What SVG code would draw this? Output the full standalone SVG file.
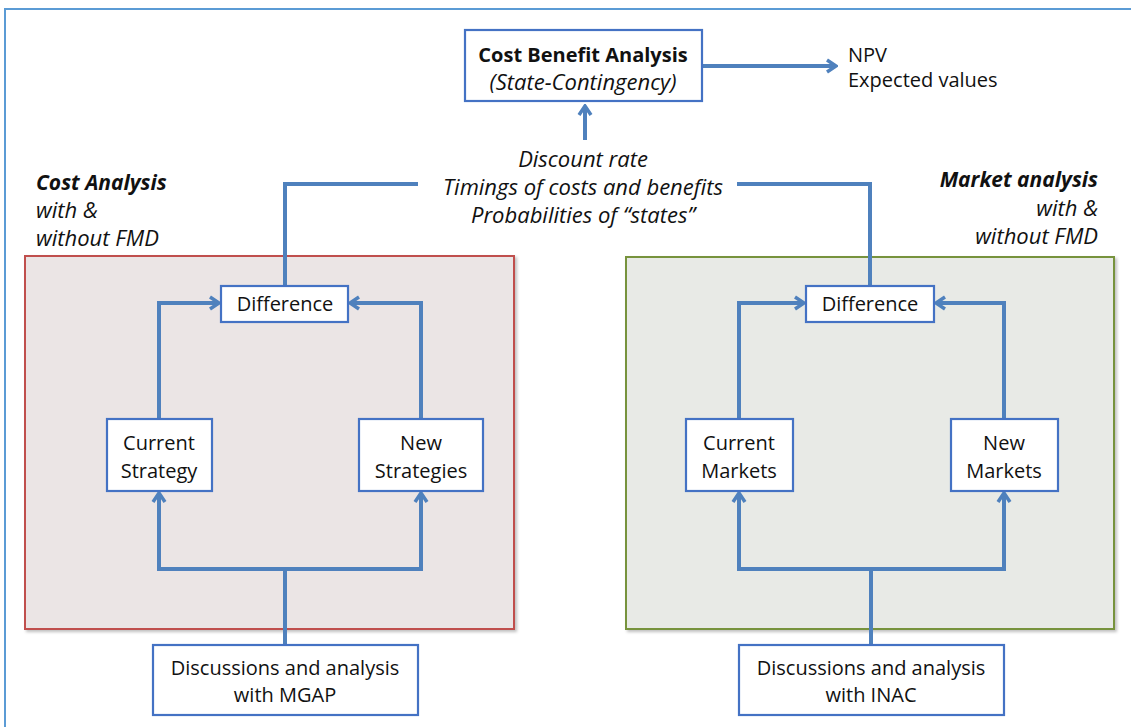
<svg xmlns="http://www.w3.org/2000/svg" width="1131" height="727" viewBox="0 0 1131 727">
<style>
.frame{fill:none;stroke:#5b9bd5;stroke-width:2}
.node{fill:#fff;stroke:#4472c4;stroke-width:2.2}
.t{font-family:"Open Sans",Lato,"Liberation Sans",sans-serif;font-size:20px;fill:#111}
.c{text-anchor:middle}
.i{font-style:italic;font-size:22px}
.b{font-weight:bold}
.bi{font-weight:bold;font-style:italic;font-size:21px}
.r{text-anchor:end}
.conn{fill:none;stroke:#4f81bd;stroke-width:4;stroke-linejoin:miter}
</style>
<defs>
<marker id="ah" markerUnits="userSpaceOnUse" markerWidth="16" markerHeight="16" viewBox="-14 -8 16 16" refX="0" refY="0" orient="auto-start-reverse">
<path d="M-9,-6 L0,0 L-9,6" fill="none" stroke="#4f81bd" stroke-width="3.5" stroke-linejoin="miter"/>
</marker>
<filter id="sh" x="-5%" y="-5%" width="110%" height="110%"><feDropShadow dx="2" dy="2" stdDeviation="1.5" flood-color="#000" flood-opacity="0.25"/></filter>
</defs>
<rect width="1131" height="727" fill="#fff"/>
<path class="frame" d="M5,727 V9 H1131"/>
<g id="cost-panel">
<rect x="25" y="256" width="489" height="373" fill="#ebe5e5" stroke="#c0504d" stroke-width="2" filter="url(#sh)"/>
<text class="t bi" x="36" y="190">Cost Analysis</text>
<text class="t i" x="36" y="218">with &amp;</text>
<text class="t i" x="36" y="246">without FMD</text>
</g>
<g id="market-panel">
<rect x="626" y="257" width="488" height="372" fill="#e8eae6" stroke="#77933c" stroke-width="2" filter="url(#sh)"/>
<text class="t bi r" x="1098" y="187">Market analysis</text>
<text class="t i r" x="1098" y="216">with &amp;</text>
<text class="t i r" x="1098" y="244">without FMD</text>
</g>
<g id="connectors">
<path class="conn" d="M702,66 H836" marker-end="url(#ah)"/>
<path class="conn" d="M585,140 V106" marker-end="url(#ah)"/>
<path class="conn" d="M285,286 V184 H418"/>
<path class="conn" d="M870,286 V184 H737"/>
<path class="conn" d="M159,419 V303 H219" marker-end="url(#ah)"/>
<path class="conn" d="M421,419 V303 H350" marker-end="url(#ah)"/>
<path class="conn" d="M285,645 V569"/>
<path class="conn" d="M159,493 V569 H421 V493" marker-start="url(#ah)" marker-end="url(#ah)"/>
<path class="conn" d="M739,419 V303 H804" marker-end="url(#ah)"/>
<path class="conn" d="M1004,419 V303 H936" marker-end="url(#ah)"/>
<path class="conn" d="M871,645 V569"/>
<path class="conn" d="M739,493 V569 H1004 V493" marker-start="url(#ah)" marker-end="url(#ah)"/>
</g>
<g id="cba">
<rect class="node" x="465" y="30" width="237" height="71"/>
<text class="t c b" x="583" y="62">Cost Benefit Analysis</text>
<text class="t c i" x="583" y="90">(State-Contingency)</text>
</g>
<g id="outputs">
<text class="t" x="848" y="62">NPV</text>
<text class="t" x="848" y="87">Expected values</text>
</g>
<g id="inputs">
<text class="t c i" x="583" y="167">Discount rate</text>
<text class="t c i" x="583" y="195">Timings of costs and benefits</text>
<text class="t c i" x="583" y="223">Probabilities of “states”</text>
</g>
<g id="diff-cost">
<rect class="node" x="221" y="286" width="127" height="36"/>
<text class="t c" x="285" y="311">Difference</text>
</g>
<g id="current-strategy">
<rect class="node" x="107" y="419" width="105" height="72"/>
<text class="t c" x="159" y="450">Current</text>
<text class="t c" x="159" y="478">Strategy</text>
</g>
<g id="new-strategies">
<rect class="node" x="359" y="419" width="124" height="72"/>
<text class="t c" x="421" y="450">New</text>
<text class="t c" x="421" y="478">Strategies</text>
</g>
<g id="mgap">
<rect class="node" x="153" y="645" width="265" height="70"/>
<text class="t c" x="285" y="675">Discussions and analysis</text>
<text class="t c" x="285" y="702">with MGAP</text>
</g>
<g id="diff-market">
<rect class="node" x="806" y="286" width="128" height="36"/>
<text class="t c" x="870" y="311">Difference</text>
</g>
<g id="current-markets">
<rect class="node" x="686" y="419" width="107" height="72"/>
<text class="t c" x="739" y="450">Current</text>
<text class="t c" x="739" y="478">Markets</text>
</g>
<g id="new-markets">
<rect class="node" x="951" y="419" width="107" height="72"/>
<text class="t c" x="1004" y="450">New</text>
<text class="t c" x="1004" y="478">Markets</text>
</g>
<g id="inac">
<rect class="node" x="739" y="645" width="265" height="70"/>
<text class="t c" x="871" y="675">Discussions and analysis</text>
<text class="t c" x="871" y="702">with INAC</text>
</g>
</svg>
